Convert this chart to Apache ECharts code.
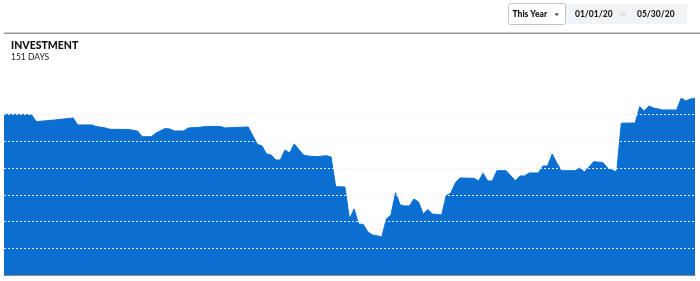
<!DOCTYPE html>
<html>
<head>
<meta charset="utf-8">
<script src="https://cdn.jsdelivr.net/npm/echarts@6/dist/echarts.min.js"></script>
<style>
html,body{margin:0;padding:0;background:#fff;}
#c{width:700px;height:281px;}
</style>
</head>
<body>
<div id="c"></div>
<script>
const dates = [
'2020-01-01','2020-01-06','2020-01-07','2020-01-08','2020-01-12','2020-01-16','2020-01-17','2020-01-20','2020-01-21','2020-01-23',
'2020-01-24','2020-01-28','2020-01-30','2020-01-31','2020-02-02','2020-02-03','2020-02-05','2020-02-06','2020-02-07','2020-02-09',
'2020-02-10','2020-02-12','2020-02-14','2020-02-17','2020-02-18','2020-02-20','2020-02-23','2020-02-25','2020-02-26','2020-02-27',
'2020-02-28','2020-02-29','2020-03-01','2020-03-02','2020-03-03','2020-03-04','2020-03-06','2020-03-07','2020-03-09','2020-03-11',
'2020-03-12','2020-03-13','2020-03-15','2020-03-16','2020-03-17','2020-03-18','2020-03-19','2020-03-20','2020-03-21','2020-03-22',
'2020-03-23','2020-03-24','2020-03-25','2020-03-26','2020-03-27','2020-03-28','2020-03-29','2020-03-30','2020-03-31','2020-04-01',
'2020-04-02','2020-04-03','2020-04-05','2020-04-06','2020-04-07','2020-04-08','2020-04-09','2020-04-12','2020-04-13','2020-04-14',
'2020-04-15','2020-04-16','2020-04-17','2020-04-19','2020-04-21','2020-04-22','2020-04-23','2020-04-24','2020-04-26','2020-04-27',
'2020-04-28','2020-04-29','2020-04-30','2020-05-01','2020-05-04','2020-05-05','2020-05-06','2020-05-08','2020-05-10','2020-05-11',
'2020-05-13','2020-05-14','2020-05-17','2020-05-18','2020-05-19','2020-05-20','2020-05-21','2020-05-22','2020-05-23','2020-05-26',
'2020-05-27','2020-05-28','2020-05-29','2020-05-30'
];
const investment = [
6017,6009,5990,5740,5803,5878,5616,5616,5560,5504,
5455,5448,5391,5178,5178,5316,5485,5466,5391,5391,
5504,5522,5560,5560,5504,5522,5541,4893,4830,4530,
4493,4306,4306,4680,4568,4905,4493,4455,4429,4467,
4418,3306,3295,2097,2471,1909,1891,1610,1498,1470,
1420,2097,2246,3081,2621,2583,2583,2845,2733,2284,
2452,2284,2246,2969,3070,3456,3632,3620,3519,3808,
3519,3519,3905,3905,3531,3707,3707,3819,3819,4081,
4081,4530,4193,3905,3905,4006,3856,4242,4212,4006,
3856,5680,5691,6301,6140,6327,6250,6215,6178,6178,
6616,6515,6589,6608
];
const title = 'INVESTMENT';
const subtitle = '151 DAYS';
const rangeLabel = 'This Year';
const startLabel = '01/01/20';
const endLabel = '05/30/20';

const chart = echarts.init(document.getElementById('c'), null, {renderer:'canvas'});
const FONT = 'Lato, "Open Sans", sans-serif';
chart.setOption({
  animation:false,
  backgroundColor:'#fff',
  grid:{left:4,right:5,top:88,bottom:6},
  xAxis:{
    type:'time',
    min:'2020-01-01',max:'2020-05-30',
    axisLine:{show:true,lineStyle:{color:'#8a8a8a',width:1}},
    axisTick:{show:false},axisLabel:{show:false},splitLine:{show:false}
  },
  yAxis:{
    type:'value',min:0,max:7000,interval:1000,z:10,
    axisLine:{show:false},axisTick:{show:false},axisLabel:{show:false},
    splitLine:{show:true,showMinLine:false,showMaxLine:false,lineStyle:{color:'#eceef0',width:1,type:[2,2]}}
  },
  series:[{
    type:'line',
    data:dates.map((d,i)=>[d,investment[i]]),
    showSymbol:false,symbol:'none',
    lineStyle:{color:'#0b6fd1',width:1},
    areaStyle:{color:'#0b6fd1',opacity:1},
    z:2
  }],
  graphic:[
    {type:'rect',shape:{x:4,y:32.5,width:696,height:1.5},style:{fill:'#9a9a9a'},silent:true},
    {type:'text',x:11,y:40,style:{text:title,font:'900 10.5px '+FONT,fill:'#111'}},
    {type:'text',x:11,y:53,style:{text:subtitle,font:'8.5px '+FONT,fill:'#222'}},
    {type:'rect',shape:{x:566,y:4,width:121,height:20},style:{fill:'#f1f4f7'}},
    {type:'rect',shape:{x:508.5,y:3.5,width:57,height:21,r:2},style:{fill:'#fff',stroke:'#c4c4c4',lineWidth:1}},
    {type:'text',x:512.5,y:9.5,style:{text:rangeLabel,font:'900 8.5px '+FONT,fill:'#111'}},
    {type:'polygon',shape:{points:[[554.5,13.5],[559,13.5],[556.75,16]]},style:{fill:'#333'}},
    {type:'text',x:575,y:9.5,style:{text:startLabel,font:'900 8.5px '+FONT,fill:'#222'}},
    {type:'text',x:620,y:11,style:{text:'to',font:'6px '+FONT,fill:'#c8c8c8'}},
    {type:'text',x:637,y:9.5,style:{text:endLabel,font:'900 8.5px '+FONT,fill:'#222'}}
  ]
});
</script>
</body>
</html>
